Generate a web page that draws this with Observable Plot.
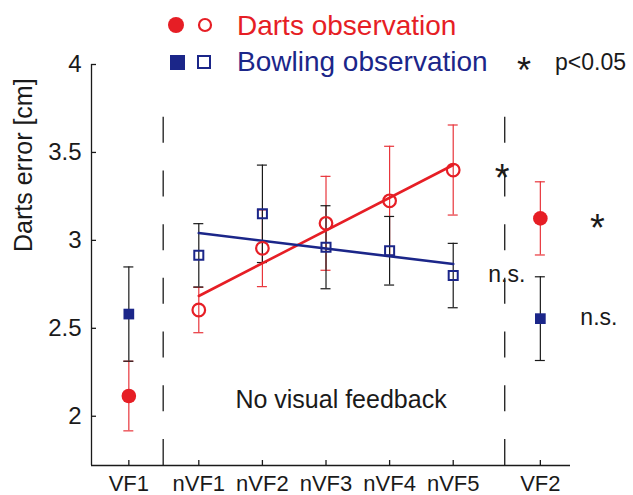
<!DOCTYPE html>
<html><head><meta charset="utf-8">
<script src="https://cdn.jsdelivr.net/npm/d3@7"></script>
<script src="https://cdn.jsdelivr.net/npm/@observablehq/plot@0.6"></script>
<style>
body{margin:0;background:#fff}
#chart{font-family:"Liberation Sans",Arial,Helvetica,sans-serif;width:633px;height:495px}
</style>
</head><body><div id="chart"></div>
<script>
// ---- data ----
const conditions = ["VF1","nVF1","nVF2","nVF3","nVF4","nVF5","VF2"];
const conditionPos = [-0.1, 1, 2, 3, 4, 5, 6.37];
const dartsMean = [2.115, 2.604, 2.955, 3.097, 3.225, 3.400, 3.125];
const dartsErr  = [0.198, 0.129, 0.218, 0.267, 0.310, 0.256, 0.208];
const bowlingMean = [2.581, 2.915, 3.151, 2.961, 2.941, 2.800, 2.555];
const bowlingErr  = [0.268, 0.180, 0.277, 0.236, 0.195, 0.183, 0.238];
const dividerPos = [0.44, 5.81];
const yTicks = [2, 2.5, 3, 3.5, 4];
const annotations = [
  {cond:"nVF5", series:"darts", label:"*"},
  {cond:"nVF5", series:"bowling", label:"n.s."},
  {cond:"VF2", series:"darts", label:"*"},
  {cond:"VF2", series:"bowling", label:"n.s."}
];
const sectionLabel = "No visual feedback";
const yLabel = "Darts error [cm]";

// ---- build ----
const RED = "#e61e25", RED_BAR = "#e8353b", BLUE = "#1b2689", BLACK = "#1a1a1a";
const xDomain = [-0.687, 6.844], yDomain = [1.72, 4], dividerTop = 3.70;
const mk = (means, errs) => conditions.map((c, i) => ({
  cond: c, pos: conditionPos[i], open: c.startsWith("n"),
  mean: means[i], lo: means[i] - errs[i], hi: means[i] + errs[i]
}));
const darts = mk(dartsMean, dartsErr);
const bowling = mk(bowlingMean, bowlingErr);
const ann = annotations.map(a => {
  const row = (a.series === "darts" ? darts : bowling).find(r => r.cond === a.cond);
  return {...a, pos: row.pos, mean: row.mean};
});
const annStar = ann.filter(a => a.label === "*");
const annNs = ann.filter(a => a.label !== "*");

const capOpts = {insetLeft: -5, insetRight: -5, strokeWidth: 1.2};
const plot = Plot.plot({
  width: 633, height: 495,
  marginLeft: 91, marginRight: 63, marginTop: 64, marginBottom: 30,
  style: {fontFamily: "'Liberation Sans', Arial, sans-serif", color: BLACK, background: "#fff", overflow: "visible"},
  x: {type: "linear", domain: xDomain},
  y: {domain: yDomain},
  marks: [
    Plot.ruleX(dividerPos, {x: d => d, y1: dividerTop, y2: yDomain[0], stroke: BLACK, strokeWidth: 1.3, strokeDasharray: "26,27.7"}),
    Plot.ruleY([yDomain[0]], {stroke: BLACK, strokeWidth: 1.3}),
    Plot.ruleX([xDomain[0]], {y1: yDomain[0], y2: yDomain[1], stroke: BLACK, strokeWidth: 1.3}),
    Plot.axisY({ticks: yTicks, tickSize: -5, tickPadding: 15, tickFormat: d => String(d), fontSize: 24, label: null, strokeWidth: 1.3}),
    Plot.axisX({ticks: conditionPos, tickFormat: (d, i) => conditions[i], tickSize: -5, tickPadding: 15, fontSize: 22, label: null, strokeWidth: 1.3}),
    Plot.text([yLabel], {frameAnchor: "left", rotate: -90, dx: -68, dy: -13, fontSize: 25, fill: BLACK}),
    Plot.text([sectionLabel], {x: () => 3.236, y: () => 2.09, fontSize: 25, fill: BLACK, textAnchor: "middle"}),
    // error bars
    Plot.ruleX(darts, {x: "pos", y1: "lo", y2: "hi", stroke: RED_BAR, strokeWidth: 1.2}),
    Plot.ruleY(darts, {y: "hi", x1: "pos", x2: "pos", stroke: RED_BAR, ...capOpts}),
    Plot.ruleY(darts, {y: "lo", x1: "pos", x2: "pos", stroke: RED_BAR, ...capOpts}),
    Plot.ruleX(bowling, {x: "pos", y1: "lo", y2: "hi", stroke: BLACK, strokeWidth: 1.2}),
    Plot.ruleY(bowling, {y: "hi", x1: "pos", x2: "pos", stroke: BLACK, ...capOpts}),
    Plot.ruleY(bowling, {y: "lo", x1: "pos", x2: "pos", stroke: BLACK, ...capOpts}),
    // regression lines over the no-feedback phase
    Plot.linearRegressionY(darts.filter(d => d.open), {x: "pos", y: "mean", stroke: RED, strokeWidth: 2.6, ci: 0}),
    Plot.linearRegressionY(bowling.filter(d => d.open), {x: "pos", y: "mean", stroke: BLUE, strokeWidth: 2.6, ci: 0}),
    // markers
    Plot.dot(darts.filter(d => !d.open), {x: "pos", y: "mean", r: 7.3, fill: RED, stroke: null}),
    Plot.dot(darts.filter(d => d.open), {x: "pos", y: "mean", r: 6.3, fill: "none", stroke: RED, strokeWidth: 2.2}),
    Plot.dot(bowling.filter(d => !d.open), {x: "pos", y: "mean", symbol: "square", r: 6.04, fill: BLUE, stroke: null}),
    Plot.dot(bowling.filter(d => d.open), {x: "pos", y: "mean", symbol: "square", r: 5.1, fill: "none", stroke: BLUE, strokeWidth: 2}),
    // significance annotations
    Plot.text(annStar.filter(a => a.cond === "nVF5"), {x: "pos", y: "mean", text: "label", dx: 49, dy: 9, fontSize: 38, fill: BLACK}),
    Plot.text(annStar.filter(a => a.cond === "VF2"), {x: "pos", y: "mean", text: "label", dx: 57, dy: 10, fontSize: 38, fill: BLACK}),
    Plot.text(annNs.filter(a => a.cond === "nVF5"), {x: "pos", y: "mean", text: "label", dx: 35, dy: -1, textAnchor: "start", fontSize: 23, fill: BLACK}),
    Plot.text(annNs.filter(a => a.cond === "VF2"), {x: "pos", y: "mean", text: "label", dx: 40, dy: -1, textAnchor: "start", fontSize: 23, fill: BLACK})
  ]
});
document.getElementById("chart").appendChild(plot);

// ---- legend (inside the same SVG, above plot area) ----
const svg = d3.select(plot);
const lg = svg.append("g").attr("font-family", "'Liberation Sans', Arial, sans-serif").attr("text-anchor", "start");
lg.append("circle").attr("cx", 176).attr("cy", 25).attr("r", 8).attr("fill", RED);
lg.append("circle").attr("cx", 205).attr("cy", 25).attr("r", 6).attr("fill", "none").attr("stroke", RED).attr("stroke-width", 2.2);
lg.append("text").attr("x", 237).attr("y", 35).attr("font-size", 28).attr("fill", RED).text("Darts observation");
lg.append("rect").attr("x", 170).attr("y", 55).attr("width", 15).attr("height", 15).attr("fill", BLUE);
lg.append("rect").attr("x", 198).attr("y", 56).attr("width", 12).attr("height", 12).attr("fill", "none").attr("stroke", BLUE).attr("stroke-width", 2);
lg.append("text").attr("x", 237).attr("y", 71).attr("font-size", 28).attr("fill", BLUE).text("Bowling observation");
lg.append("text").attr("x", 524).attr("y", 83).attr("font-size", 36).attr("text-anchor", "middle").attr("fill", BLACK).text("*");
lg.append("text").attr("x", 555).attr("y", 70).attr("font-size", 23).attr("fill", BLACK).text("p<0.05");
</script>
</body></html>
